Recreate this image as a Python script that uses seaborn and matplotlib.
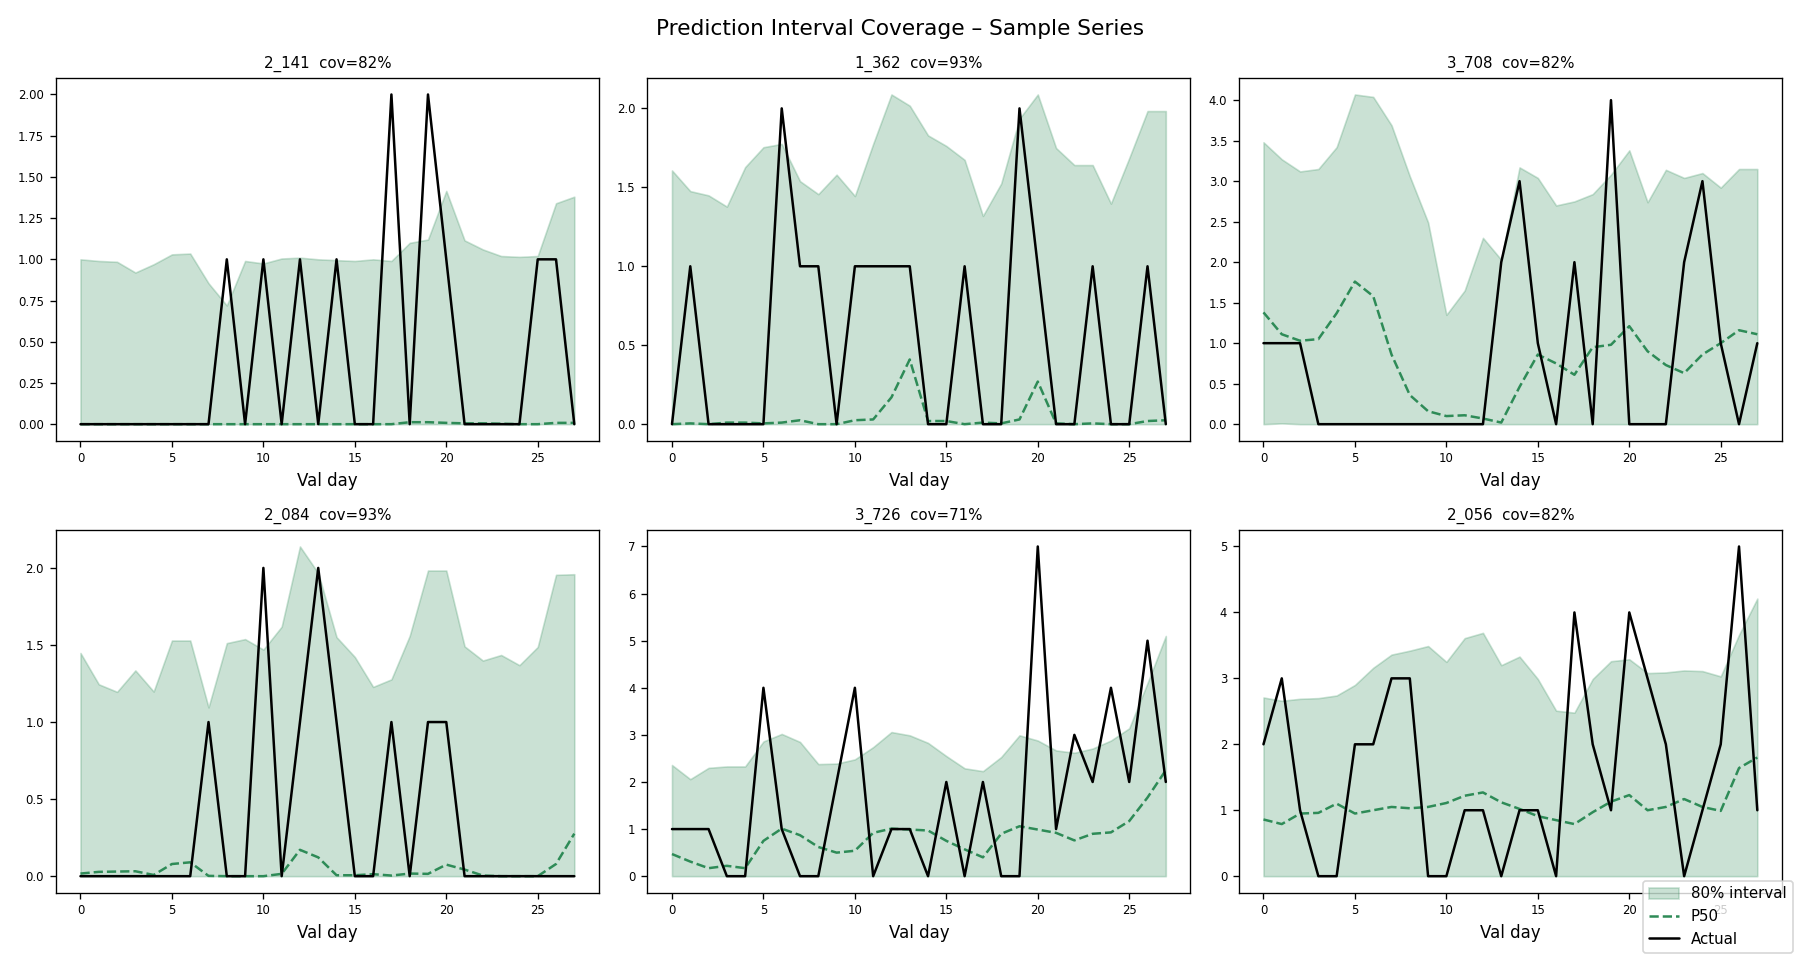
import numpy as np
import pandas as pd
import matplotlib
matplotlib.use("Agg")
import matplotlib.pyplot as plt
import seaborn as sns

sns.set_style("ticks", rc={
    "axes.edgecolor": "black", "axes.linewidth": 0.8,
    "xtick.color": "black", "ytick.color": "black",
    "xtick.major.size": 3.5, "ytick.major.size": 3.5,
    "xtick.major.width": 0.8, "ytick.major.width": 0.8,
    "text.color": "black", "axes.labelcolor": "black",
})
plt.rcParams['font.family'] = ['DejaVu Sans']

days = list(range(28))

titles = ["2_141  cov=82%", "1_362  cov=93%", "3_708  cov=82%",
          "2_084  cov=93%", "3_726  cov=71%", "2_056  cov=82%"]

# --- series 2_141
upper_2141 = [1.00, 0.99, 0.985, 0.92, 0.97, 1.03, 1.035, 0.855, 0.72, 0.99, 0.975, 1.005, 1.01, 1.00,
              0.995, 0.99, 1.00, 0.99, 1.10, 1.12, 1.415, 1.115, 1.06, 1.02, 1.015, 1.02, 1.34, 1.38]
lower_2141 = [0.0] * 28
p50_2141 = [0, 0, 0, 0, 0, 0, 0, 0, 0, 0, 0, 0, 0, 0, 0, 0, 0, 0, 0.012, 0.012, 0.008, 0.005,
            0.005, 0.003, 0, 0, 0.008, 0.008]
actual_2141 = [0, 0, 0, 0, 0, 0, 0, 0, 1, 0, 1, 0, 1, 0, 1, 0, 0, 2, 0, 2, 1, 0, 0, 0, 0, 1, 1, 0]

# --- series 1_362
upper_1362 = [1.607, 1.476, 1.449, 1.378, 1.628, 1.754, 1.775, 1.539, 1.457, 1.580, 1.445, 1.775, 2.088,
              2.017, 1.829, 1.762, 1.674, 1.319, 1.524, 1.935, 2.088, 1.749, 1.641, 1.641, 1.397, 1.685,
              1.983, 1.983]
lower_1362 = [0.0] * 28
p50_1362 = [0, 0.005, 0, 0.01, 0.01, 0.005, 0.01, 0.025, 0, 0, 0.025, 0.03, 0.17, 0.41, 0.02, 0.02, 0,
            0.01, 0.005, 0.03, 0.27, 0.005, 0, 0.005, 0, 0, 0.02, 0.025]
actual_1362 = [0, 1, 0, 0, 0, 0, 2, 1, 1, 0, 1, 1, 1, 1, 0, 0, 1, 0, 0, 2, 1, 0, 0, 1, 0, 0, 1, 0]

# --- series 3_708
upper_3708 = [3.48, 3.27, 3.12, 3.15, 3.42, 4.07, 4.04, 3.69, 3.06, 2.49, 1.35, 1.65, 2.30, 2.03, 3.17,
              3.04, 2.70, 2.75, 2.84, 3.08, 3.38, 2.74, 3.14, 3.04, 3.10, 2.92, 3.15, 3.15]
lower_3708 = [0.0, 0.01, 0.0, 0.0, 0.0, 0.0, 0.0, 0.0, 0.0, 0.0, 0.0, 0.0, 0.0, 0.0, 0.0, 0.0, 0.0, 0.0,
              0.0, 0.0, 0.0, 0.0, 0.0, 0.0, 0.0, 0.0, 0.0, 0.0]
p50_3708 = [1.38, 1.11, 1.03, 1.05, 1.37, 1.76, 1.58, 0.86, 0.36, 0.16, 0.10, 0.11, 0.07, 0.02, 0.46,
            0.86, 0.75, 0.61, 0.95, 0.98, 1.21, 0.90, 0.73, 0.63, 0.86, 1.00, 1.16, 1.11]
actual_3708 = [1, 1, 1, 0, 0, 0, 0, 0, 0, 0, 0, 0, 0, 2, 3, 1, 0, 2, 0, 4, 0, 0, 0, 2, 3, 1, 0, 1]

# --- series 2_084
upper_2084 = [1.448, 1.245, 1.196, 1.335, 1.198, 1.529, 1.529, 1.095, 1.512, 1.538, 1.470, 1.619, 2.139,
              1.966, 1.551, 1.422, 1.228, 1.277, 1.559, 1.983, 1.983, 1.491, 1.399, 1.435, 1.369, 1.487,
              1.955, 1.959]
lower_2084 = [0.0] * 28
p50_2084 = [0.017, 0.028, 0.030, 0.032, 0.008, 0.079, 0.090, 0.002, 0, 0, 0, 0.015, 0.171, 0.122, 0.006,
            0.006, 0.013, 0.004, 0.017, 0.015, 0.075, 0.043, 0.004, 0, 0, 0, 0.079, 0.276]
actual_2084 = [0, 0, 0, 0, 0, 0, 0, 1, 0, 0, 2, 0, 1, 2, 1, 0, 0, 1, 0, 1, 1, 0, 0, 0, 0, 0, 0, 0]

# --- series 3_726
upper_3726 = [2.36, 2.06, 2.30, 2.33, 2.33, 2.86, 3.02, 2.85, 2.38, 2.39, 2.48, 2.74, 3.06, 2.99, 2.83,
              2.55, 2.29, 2.23, 2.53, 2.99, 2.88, 2.67, 2.62, 2.71, 2.88, 3.14, 4.10, 5.10]
lower_3726 = [0.0] * 28
p50_3726 = [0.47, 0.31, 0.17, 0.22, 0.17, 0.75, 1.01, 0.87, 0.62, 0.50, 0.54, 0.92, 1.01, 0.99, 0.97,
            0.75, 0.57, 0.40, 0.90, 1.06, 0.99, 0.92, 0.76, 0.90, 0.93, 1.17, 1.67, 2.25]
actual_3726 = [1, 1, 1, 0, 0, 4, 1, 0, 0, 2, 4, 0, 1, 1, 0, 2, 0, 2, 0, 0, 7, 1, 3, 2, 4, 2, 5, 2]

# --- series 2_056
upper_2056 = [2.71, 2.66, 2.69, 2.70, 2.74, 2.90, 3.16, 3.36, 3.42, 3.49, 3.25, 3.61, 3.69, 3.20, 3.33,
              2.99, 2.51, 2.48, 2.99, 3.26, 3.29, 3.08, 3.09, 3.12, 3.11, 3.03, 3.66, 4.21]
lower_2056 = [0.0] * 28
p50_2056 = [0.86, 0.79, 0.95, 0.96, 1.10, 0.95, 1.00, 1.05, 1.03, 1.05, 1.11, 1.22, 1.27, 1.12, 1.02,
            0.91, 0.85, 0.79, 0.97, 1.13, 1.23, 1.00, 1.05, 1.17, 1.05, 0.99, 1.64, 1.80]
actual_2056 = [2, 3, 1, 0, 0, 2, 2, 3, 3, 0, 0, 1, 1, 0, 1, 1, 0, 4, 2, 1, 4, 3, 2, 0, 1, 2, 5, 1]

series = [
    (upper_2141, lower_2141, p50_2141, actual_2141),
    (upper_1362, lower_1362, p50_1362, actual_1362),
    (upper_3708, lower_3708, p50_3708, actual_3708),
    (upper_2084, lower_2084, p50_2084, actual_2084),
    (upper_3726, lower_3726, p50_3726, actual_3726),
    (upper_2056, lower_2056, p50_2056, actual_2056),
]

GREEN = "seagreen"

fig, axes = plt.subplots(2, 3, figsize=(15, 8), dpi=120)
for ax, title, (up, lo, p50, act) in zip(axes.flat, titles, series):
    df = pd.DataFrame({"day": days, "upper": up, "lower": lo, "p50": p50, "actual": act})
    ax.fill_between(df["day"], df["lower"], df["upper"], color=GREEN, alpha=0.25, label="80% interval")
    sns.lineplot(data=df, x="day", y="p50", ax=ax, color=GREEN, linestyle="--", linewidth=1.5, label="P50")
    sns.lineplot(data=df, x="day", y="actual", ax=ax, color="black", linewidth=1.5, label="Actual")
    ax.set_title(title, fontsize=9)
    ax.set_xlabel("Val day", fontsize=10)
    ax.set_ylabel("")
    ax.tick_params(labelsize=7)
    ax.legend().remove()

handles, labels = axes.flat[0].get_legend_handles_labels()
fig.suptitle("Prediction Interval Coverage – Sample Series", fontsize=13)
fig.tight_layout()
fig.legend(handles, labels, loc="lower right", fontsize=9)
fig.savefig("out.png", dpi=120)
